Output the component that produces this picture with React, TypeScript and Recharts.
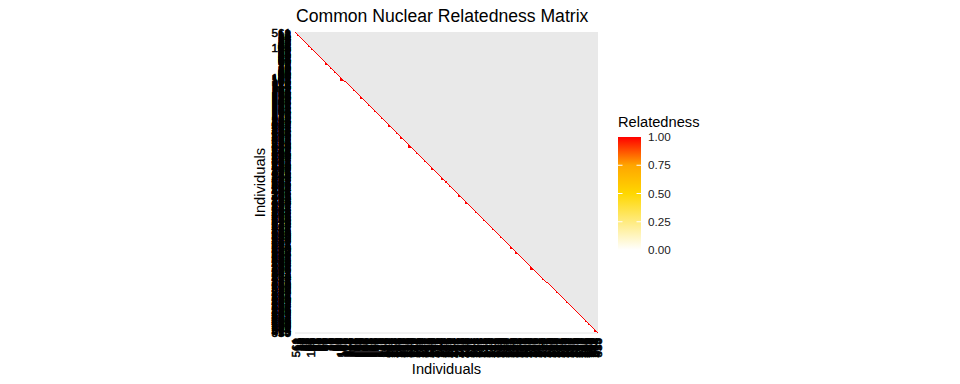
import { ComposedChart, XAxis, YAxis, Area, Scatter, ReferenceLine } from 'recharts';

// individual IDs in matrix order (left->right / top->bottom)
const individuals = [
  561, 12, 13, 18, 19, 24, 25, 26, 31, 32, 37, 40, 41, 44, 47,
  105,
  48, 50, 51, 52, 55, 57, 58, 60, 61, 63, 64, 66, 67, 69, 70, 72, 73, 75, 76, 78,
  80, 81, 83, 85, 86, 88, 90, 93, 96,
  101, 102, 103, 107, 108, 110, 111, 114, 115, 116, 119, 121, 122, 124, 127,
  128, 130, 133, 134, 136, 139, 140, 142, 145, 146, 148, 151, 152, 155, 157,
  158, 161, 163, 164, 167, 169, 170, 173, 175, 176, 179,
  181, 204, 233, 310, 185, 412, 207, 338, 251, 509,
  187, 214, 342, 420, 188, 266, 515, 191, 301, 219,
  437, 222, 352, 193, 270, 526, 226, 448, 195, 359,
  229, 283, 531, 364, 198, 455, 231, 290, 372, 200,
  537, 236, 461, 377, 203, 294, 238, 543, 382, 470,
  209, 241, 298, 388, 475, 211, 548, 244, 392, 303,
  216, 481, 247, 397, 553, 306, 249, 485, 402, 218,
  254, 312, 491, 405, 556, 257, 221, 315, 409, 494,
  259, 224, 318, 414, 498, 262, 558, 321, 227, 417,
  264, 502, 325, 268, 232, 421, 506, 328, 272, 425,
  235, 331, 510, 275, 428, 239, 334, 278, 512, 431,
  242, 336, 281, 434, 517, 245, 340, 285, 439, 248,
  520, 344, 288, 441, 252, 347, 523, 291, 444, 255,
  350, 295, 447, 528, 258, 354, 297, 450, 261, 357,
  533, 300, 453, 265, 361, 304, 457, 539, 267, 366,
  308, 460, 271, 369, 541, 311, 463, 274, 373, 314,
  467, 545, 277, 376, 317, 469, 280, 380, 550, 320,
  473, 284, 384, 323, 477, 287, 386, 554, 326, 479,
  289, 390, 329, 483, 292, 394, 557, 332, 487, 296,
  399, 335, 489, 299, 401, 559, 339, 493, 302, 404,
  343, 496, 305, 407, 560, 346, 500, 309, 411, 349, 504, 313, 415, 353,
];

// nuclear families: position of first member in the ordering, and family size
const familyStart = [2, 13, 16, 30, 35, 39, 45, 57, 64, 72, 78, 85, 92, 100, 104, 112, 120, 128,
  135, 145, 152, 161, 168, 178, 186, 195, 203, 213, 218, 233, 245, 258, 268, 287, 290, 296];
const familySize = [2, 2, 2, 3, 2, 2, 4, 2, 3, 2, 2, 2, 3, 2, 3, 4, 2, 2,
  3, 3, 2, 3, 3, 2, 2, 2, 2, 3, 3, 4, 2, 2, 2, 2, 2, 3];
const selfRelatedness = 1;
const siblingRelatedness = 1;

const legendValues = [0, 0.25, 0.5, 0.75, 1];
const legendLabels = ['0.00', '0.25', '0.50', '0.75', '1.00'];

const N = individuals.length;
const FONT = '"Liberation Sans", Arial, Helvetica, sans-serif';
const W = 960;
const H = 384;
const PLOT_LEFT = 295;
const PLOT_TOP = 32;
const PLOT_W = 303;
const PLOT_H = 301;

const positions = individuals.map((_, i) => i + 1);

const tiles: { x: number; y: number; value: number }[] = [];
individuals.forEach((_, i) => tiles.push({ x: i + 1, y: i + 1, value: selfRelatedness }));
familyStart.forEach((s, f) => {
  for (let r = 1; r < familySize[f]; r++) {
    for (let c = 0; c < r; c++) {
      tiles.push({ x: s + c + 1, y: s + r + 1, value: siblingRelatedness });
    }
  }
});

// NA region (upper triangle) boundary
const naEdge = [
  { x: 0.5, y: 0.5 },
  { x: N + 0.5, y: N + 0.5 },
];

const stops: [number, number[]][] = [
  [0, [255, 255, 255]],
  [0.5, [255, 215, 0]],
  [0.75, [255, 165, 0]],
  [1, [255, 0, 0]],
];

const fillFor = (v: number) => {
  for (let i = 1; i < stops.length; i++) {
    if (v <= stops[i][0]) {
      const [a, ca] = stops[i - 1];
      const [b, cb] = stops[i];
      const t = (v - a) / (b - a);
      const c = ca.map((k, j) => Math.round(k + (cb[j] - k) * t));
      return `rgb(${c[0]},${c[1]},${c[2]})`;
    }
  }
  return 'rgb(255,0,0)';
};

const cw = PLOT_W / N;
const ch = PLOT_H / N;

const Tile = (props: any) => {
  const { cx, cy, payload } = props;
  return (
    <rect x={cx - cw / 2} y={cy - ch / 2} width={cw} height={ch}
      fill={fillFor(payload.value)} shapeRendering='crispEdges' />
  );
};

const YTick = (props: any) => {
  const { x, y, payload } = props;
  return (
    <text x={x} y={y} dy='0.355em' textAnchor='end' fontSize={11.7} fontFamily={FONT}
      fill='#000' stroke='#000' strokeWidth={0.5}>
      {individuals[payload.value - 1]}
    </text>
  );
};

const XTick = (props: any) => {
  const { x, y, payload } = props;
  return (
    <text transform={`translate(${x},${y}) rotate(-90)`} dy='0.355em' textAnchor='end'
      fontSize={11.7} fontFamily={FONT} fill='#000' stroke='#000' strokeWidth={0.5}>
      {individuals[payload.value - 1]}
    </text>
  );
};

const BAR_X = 618;
const BAR_TOP = 137;
const BAR_H = 113;
const BAR_W = 23;
const legendY = (v: number) => BAR_TOP + (1 - v) * BAR_H;

const App = () => {
  return (
    <div style={{ position: 'absolute', left: 0, top: 0, width: W, height: H, background: '#fff' }}>
      <ComposedChart width={W} height={H} data={naEdge}
        margin={{ top: PLOT_TOP, right: W - PLOT_LEFT - PLOT_W, bottom: 0, left: 0 }}>
        <XAxis dataKey='x' type='number' domain={[0.5, N + 0.5]} allowDataOverflow
          ticks={positions} interval={0} height={H - PLOT_TOP - PLOT_H}
          axisLine={false} tickLine={false} tickSize={0} tickMargin={5} tick={<XTick />} />
        <YAxis dataKey='y' type='number' domain={[0.5, N + 0.5]} allowDataOverflow reversed
          ticks={positions} interval={0} width={PLOT_LEFT}
          axisLine={false} tickLine={false} tickSize={0} tickMargin={4} tick={<YTick />} />
        <Area dataKey='y' type='linear' baseValue={0.5} fill='#e9e9e9' fillOpacity={1}
          stroke='none' isAnimationActive={false} dot={false} activeDot={false} />
        <ReferenceLine y={N + 0.5} stroke='#e4e4e4' strokeWidth={1} />
        <Scatter data={tiles} dataKey='y' shape={<Tile />} isAnimationActive={false} />
      </ComposedChart>
      <svg width={W} height={H} style={{ position: 'absolute', left: 0, top: 0, pointerEvents: 'none' }}
        fontFamily={FONT}>
        <text x={296} y={22} fontSize={17.6} fill='#000'>Common Nuclear Relatedness Matrix</text>
        <text x={446.5} y={374} fontSize={14.67} fill='#000' textAnchor='middle'>Individuals</text>
        <text transform='translate(265,182.5) rotate(-90)' fontSize={14.67} fill='#000' textAnchor='middle'>
          Individuals
        </text>
        <text x={BAR_X} y={127} fontSize={14.67} fill='#000'>Relatedness</text>
        <defs>
          <linearGradient id='relGrad' x1='0' y1='0' x2='0' y2='1'>
            {stops.slice().reverse().map(([v, c]) => (
              <stop key={v} offset={`${(1 - v) * 100}%`} stopColor={`rgb(${c[0]},${c[1]},${c[2]})`} />
            ))}
          </linearGradient>
        </defs>
        <rect x={BAR_X} y={BAR_TOP} width={BAR_W} height={BAR_H} fill='url(#relGrad)' />
        {legendValues.map((v, i) => (
          <g key={v}>
            {v > 0 && v < 1 && (
              <>
                <line x1={BAR_X} x2={BAR_X + 4.5} y1={legendY(v)} y2={legendY(v)} stroke='#fff' strokeWidth={1} />
                <line x1={BAR_X + BAR_W - 4.5} x2={BAR_X + BAR_W} y1={legendY(v)} y2={legendY(v)} stroke='#fff' strokeWidth={1} />
              </>
            )}
            <text x={648} y={legendY(v)} dy='0.355em' fontSize={11.7} fill='#1a1a1a'>{legendLabels[i]}</text>
          </g>
        ))}
      </svg>
    </div>
  );
};

export default App;
